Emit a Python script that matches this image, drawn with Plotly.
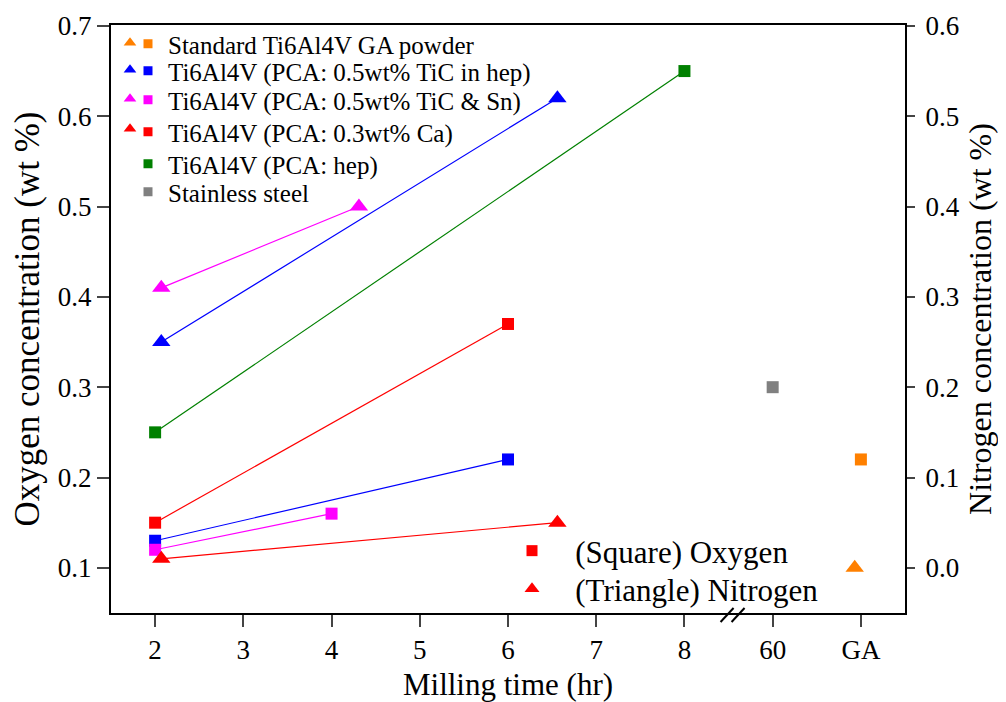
import plotly.graph_objects as go

# ---------------- data ----------------
tick_vals = [2, 3, 4, 5, 6, 7, 8, 9, 10]
tick_text = ["2", "3", "4", "5", "6", "7", "8", "60", "GA"]

names = [
    "Standard Ti6Al4V GA powder",
    "Ti6Al4V (PCA: 0.5wt% TiC in hep)",
    "Ti6Al4V (PCA: 0.5wt% TiC & Sn)",
    "Ti6Al4V (PCA: 0.3wt% Ca)",
    "Ti6Al4V (PCA: hep)",
    "Stainless steel",
]
colors = ["#FF8000", "#0000FF", "#FF00FF", "#FF0000", "#008000", "#808080"]

# oxygen (squares, left axis)
oxy_x = [[10], [2, 6], [2, 4], [2, 6], [2, 8], [9]]
oxy_y = [[0.22], [0.13, 0.22], [0.12, 0.16], [0.15, 0.37], [0.25, 0.65], [0.30]]
# nitrogen (triangles, right axis)
nit_x = [[9.93], [2.07, 6.56], [2.07, 4.31], [2.07, 6.56], [], []]
nit_y = [[0.00], [0.25, 0.52], [0.31, 0.40], [0.01, 0.05], [], []]

key_names = ["(Square) Oxygen", "(Triangle) Nitrogen"]

FONT = "Liberation Serif, Times New Roman, serif"

# ---------------- layout helpers (page pixel geometry) ----------------
OFF = 8                       # browser body margin
PL, PR, PT, PB = 111, 905, 25, 613   # plot area in page pixels
W, H = 1006 - OFF, 702 - OFF


def px_x(p):
    return (p - PL) / (PR - PL)


def px_y(p):
    return (PB - p) / (PB - PT)


fig = go.Figure()

for i in range(len(names)):
    c = colors[i]
    fig.add_trace(go.Scatter(
        x=oxy_x[i], y=oxy_y[i], mode="lines+markers",
        line=dict(color=c, width=1.2),
        marker=dict(symbol="square", size=12, color=c),
        showlegend=False, yaxis="y", cliponaxis=False))
    if nit_x[i]:
        fig.add_trace(go.Scatter(
            x=nit_x[i], y=nit_y[i], mode="lines+markers",
            line=dict(color=c, width=1.2),
            marker=dict(symbol="triangle-up", size=16, color=c),
            showlegend=False, yaxis="y2", cliponaxis=False))

legends = {}
leg_font = dict(family=FONT, size=25, color="black")
tri_rows = [43, 70, 99, 129]
sq_rows = [44, 71, 100, 132, 164, 192]
k = 1

# triangle column of the series legend
for i in range(len(names)):
    if nit_x[i]:
        lname = "legend" if k == 1 else f"legend{k}"
        fig.add_trace(go.Scatter(
            x=[None], y=[None], mode="markers", name=" ",
            marker=dict(symbol="triangle-up", size=11, color=colors[i]),
            legend=lname, yaxis="y"))
        legends[lname] = dict(x=px_x(110), y=px_y(tri_rows[i]), xanchor="left",
                              yanchor="middle", bgcolor="rgba(0,0,0,0)",
                              font=leg_font, itemclick=False)
        k += 1

# square column + names of the series legend
for i in range(len(names)):
    lname = f"legend{k}"
    fig.add_trace(go.Scatter(
        x=[None], y=[None], mode="markers", name=names[i],
        marker=dict(symbol="square", size=9, color=colors[i]),
        legend=lname, yaxis="y"))
    legends[lname] = dict(x=px_x(128), y=px_y(sq_rows[i]), xanchor="left",
                          yanchor="middle", bgcolor="rgba(0,0,0,0)",
                          font=leg_font, itemclick=False)
    k += 1

# symbol key (lower right)
key_rows = [551, 589]
key_symbols = ["square", "triangle-up"]
key_sizes = [11, 13]
for j in range(2):
    lname = f"legend{k}"
    fig.add_trace(go.Scatter(
        x=[None], y=[None], mode="markers", name="   " + key_names[j],
        marker=dict(symbol=key_symbols[j], size=key_sizes[j], color="#FF0000"),
        legend=lname, yaxis="y"))
    legends[lname] = dict(x=px_x(512), y=px_y(key_rows[j]), xanchor="left",
                          yanchor="middle", bgcolor="rgba(0,0,0,0)",
                          font=dict(family=FONT, size=31, color="black"),
                          itemclick=False)
    k += 1

# axis break marks on the x axis
for dx in (0, 11):
    fig.add_shape(type="line", xref="x", yref="paper",
                  xsizemode="pixel", ysizemode="pixel",
                  xanchor=8.5, yanchor=0,
                  x0=-8 + dx, x1=5 + dx, y0=-9, y1=5,
                  line=dict(color="black", width=2))

fig.update_layout(
    width=W, height=H,
    margin=dict(l=PL - OFF, r=1006 - PR, t=PT - OFF, b=702 - PB),
    paper_bgcolor="white", plot_bgcolor="white",
    font=dict(family=FONT, color="black"),
    xaxis=dict(
        range=[1.5, 10.5], tickvals=tick_vals, ticktext=tick_text,
        ticks="outside", ticklen=12, tickwidth=2, showline=True, linewidth=2,
        linecolor="black", mirror=True, showgrid=False, zeroline=False,
        automargin=False,
        tickfont=dict(size=27),
        title=dict(text="Milling time (hr)", font=dict(size=31), standoff=18)),
    yaxis=dict(
        range=[0.05, 0.701], dtick=0.1, tick0=0.1, tickformat=".1f",
        ticks="outside", ticklen=12, tickwidth=2, showline=True, linewidth=2,
        linecolor="black", showgrid=False, zeroline=False,
        automargin=False,
        tickfont=dict(size=27),
        title=dict(text="Oxygen concentration (wt %)", font=dict(size=35), standoff=12)),
    yaxis2=dict(
        range=[-0.05, 0.601], dtick=0.1, tick0=0, tickformat=".1f",
        overlaying="y", side="right",
        ticks="outside", ticklen=8, tickwidth=2, showline=True, linewidth=2,
        linecolor="black", showgrid=False, zeroline=False,
        automargin=False,
        tickfont=dict(size=27), ticklabelstandoff=5,
        title=dict(text="Nitrogen concentration (wt %)", font=dict(size=32), standoff=10)),
    **legends,
)

fig.write_html("out.html")
